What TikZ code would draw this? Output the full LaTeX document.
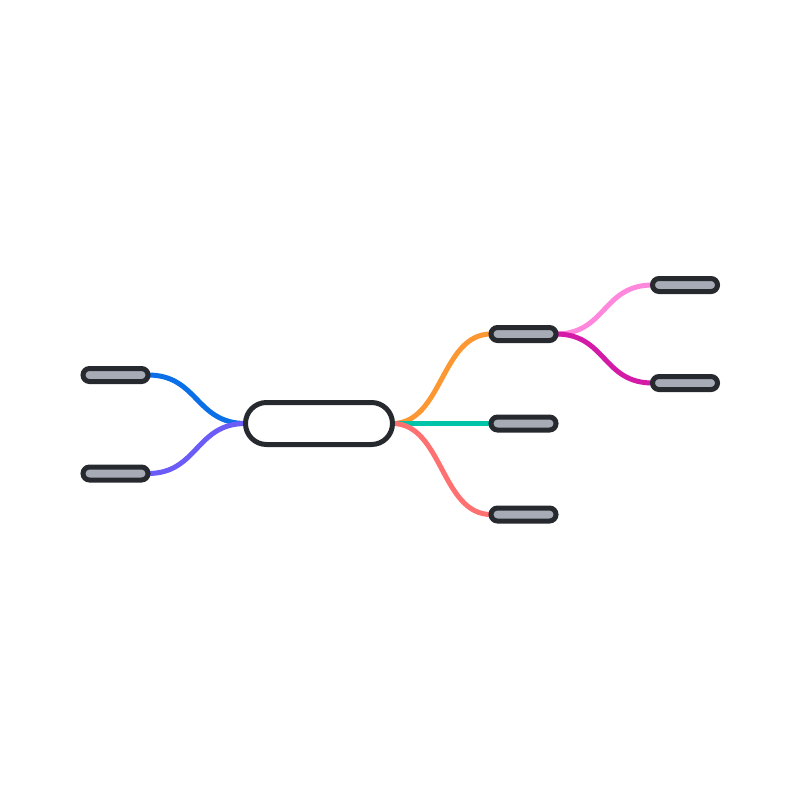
\documentclass[tikz,border=0pt]{standalone}
\usetikzlibrary{backgrounds}
\definecolor{ink}{HTML}{26292E}
\definecolor{leaf}{HTML}{A6ABB5}
\definecolor{cblue}{HTML}{0B6FE8}
\definecolor{cpurple}{HTML}{6C5CF7}
\definecolor{corange}{HTML}{FD9732}
\definecolor{cteal}{HTML}{00C4A8}
\definecolor{csalmon}{HTML}{FF7070}
\definecolor{cpink}{HTML}{FF88DD}
\definecolor{cmagenta}{HTML}{D31BA8}
\tikzset{
  rootbox/.style={draw=ink, line width=5pt, fill=white, rounded corners=21pt,
    minimum width=147pt, minimum height=42pt, inner sep=0pt, outer sep=0pt},
  leafbox/.style={draw=ink, line width=5pt, fill=leaf, rounded corners=6.5pt,
    minimum width=65pt, minimum height=13pt, inner sep=0pt, outer sep=0pt},
  link/.style={line width=5pt, out=#1, in=#1+180, out distance=50pt, in distance=50pt},
}
\begin{document}
\begin{tikzpicture}[x=1pt, y=-1pt]
\useasboundingbox (0,0) rectangle (800,800);
\node[rootbox] (root) at (319,423.5) {};
\node[leafbox] (l1) at (115.5,375) {};
\node[leafbox] (l2) at (115.5,473.5) {};
\node[leafbox] (r1) at (523.5,334) {};
\node[leafbox] (r2) at (523.5,423.5) {};
\node[leafbox] (r3) at (523.5,514.5) {};
\node[leafbox] (s1) at (685,285) {};
\node[leafbox] (s2) at (685,383) {};
\begin{scope}[on background layer]
  \fill[white] (0,0) rectangle (800,800);
  \draw[link=180, cblue] (root.west) to (l1.east);
  \draw[link=180, cpurple] (root.west) to (l2.east);
  \draw[link=0, corange] (root.east) to (r1.west);
  \draw[line width=5pt, cteal] (root.east) -- (r2.west);
  \draw[link=0, csalmon] (root.east) to (r3.west);
  \draw[link=0, cpink] (r1.east) to (s1.west);
  \draw[link=0, cmagenta] (r1.east) to (s2.west);
\end{scope}
\end{tikzpicture}
\end{document}
